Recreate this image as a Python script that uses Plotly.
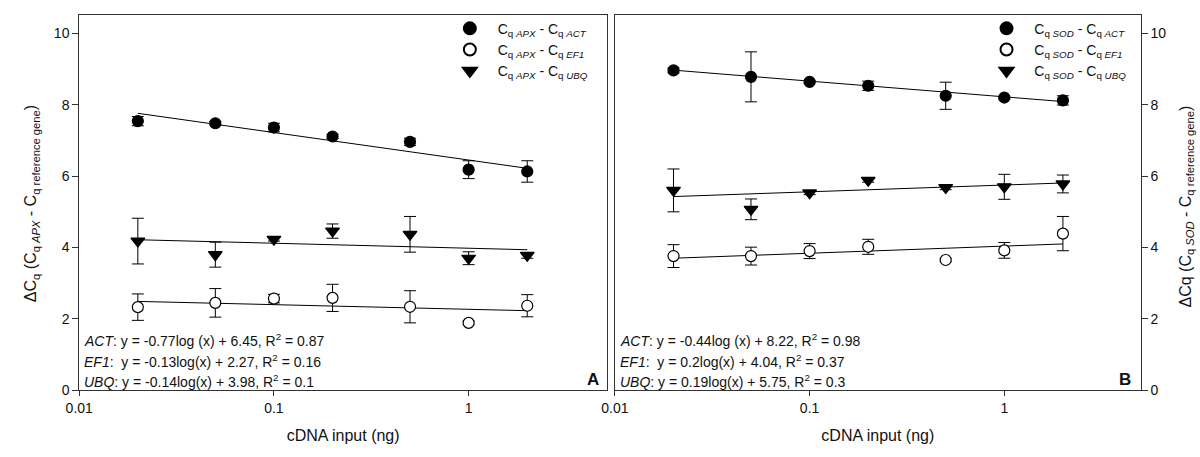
import numpy as np
import plotly.graph_objects as go

# ---------------- data ----------------
cdna = [0.02, 0.05, 0.1, 0.2, 0.5, 1, 2]

# Panel A (APX)
a_act = [7.54, 7.48, 7.36, 7.11, 6.96, 6.18, 6.13]
a_act_err = [0.13, 0.05, 0.12, 0.06, 0.10, 0.25, 0.30]
a_ef1 = [2.33, 2.45, 2.57, 2.59, 2.34, 1.89, 2.37]
a_ef1_err = [0.37, 0.40, 0.12, 0.38, 0.45, 0.05, 0.31]
a_ubq = [4.18, 3.80, 4.23, 4.46, 4.37, 3.70, 3.78]
a_ubq_err = [0.64, 0.35, 0.05, 0.20, 0.50, 0.18, 0.08]

# Panel B (SOD)
b_act = [8.96, 8.78, 8.64, 8.53, 8.25, 8.20, 8.12]
b_act_err = [0.07, 0.70, 0.04, 0.13, 0.38, 0.04, 0.13]
b_ef1 = [3.76, 3.76, 3.90, 4.02, 3.65, 3.92, 4.39]
b_ef1_err = [0.32, 0.25, 0.21, 0.21, 0.05, 0.22, 0.48]
b_ubq = [5.60, 5.07, 5.53, 5.88, 5.68, 5.70, 5.78]
b_ubq_err = [0.60, 0.29, 0.05, 0.05, 0.06, 0.35, 0.25]

# regression coefficients (slope, intercept) as printed on the chart
a_fit = {"ACT": (-0.77, 6.45), "EF1": (-0.13, 2.27), "UBQ": (-0.14, 3.98)}
b_fit = {"ACT": (-0.44, 8.22), "EF1": (0.20, 4.04), "UBQ": (0.19, 5.75)}

a_eq = ["<i>ACT</i>: y = -0.77log (x) + 6.45, R<sup>2</sup> = 0.87",
        "<i>EF1</i>:&nbsp; y = -0.13log(x) + 2.27, R<sup>2</sup> = 0.16",
        "<i>UBQ</i>: y = -0.14log(x) + 3.98, R<sup>2</sup> = 0.1"]
b_eq = ["<i>ACT</i>: y = -0.44log (x) + 8.22, R<sup>2</sup> = 0.98",
        "<i>EF1</i>:&nbsp; y = 0.2log(x) + 4.04, R<sup>2</sup> = 0.37",
        "<i>UBQ</i>: y = 0.19log(x) + 5.75, R<sup>2</sup> = 0.3"]

FONT = "Arial, Liberation Sans, sans-serif"
W, H = 1200, 457
DEC = 197.0  # px per decade

def px_x(p):
    return p / W

def px_y(p):
    return 1 - p / H

fig = go.Figure()

def add_panel(xa, ya, gene, vals, fits, legend):
    specs = [("ACT", "circle", "black", vals[0], vals[1]),
             ("EF1", "circle", "white", vals[2], vals[3]),
             ("UBQ", "triangle-down", "black", vals[4], vals[5])]
    for ref, sym, fill, y, e in specs:
        s, b = fits[ref]
        xl = [cdna[0], cdna[-1]]
        yl = [s * np.log10(v) + b for v in xl]
        fig.add_trace(go.Scatter(x=xl, y=yl, mode="lines", xaxis=xa, yaxis=ya,
                                 line=dict(color="black", width=1), showlegend=False,
                                 hoverinfo="skip"))
    for ref, sym, fill, y, e in specs:
        fig.add_trace(go.Scatter(
            x=cdna, y=y, mode="markers", xaxis=xa, yaxis=ya, legend=legend,
            name=f"&nbsp;&nbsp;C<sub>q <i>{gene}</i></sub> - C<sub>q <i>{ref}</i></sub>",
            marker=dict(symbol=sym, size=11 if sym != "triangle-down" else 12,
                        color=fill, line=dict(color="black", width=1.2)),
            error_y=dict(type="data", array=e, visible=True, color="black",
                         thickness=1, width=6)))

add_panel("x", "y", "APX", [a_act, a_act_err, a_ef1, a_ef1_err, a_ubq, a_ubq_err], a_fit, "legend")
add_panel("x2", "y2", "SOD", [b_act, b_act_err, b_ef1, b_ef1_err, b_ubq, b_ubq_err], b_fit, "legend2")

ydom = [px_y(397.3), px_y(15.7)]
axis_common = dict(showline=True, linecolor="#333", linewidth=1, mirror=True,
                   ticks="outside", tickcolor="#333", showgrid=False,
                   zeroline=False, tickfont=dict(family=FONT, size=14, color="#111"))

fig.update_layout(
    width=W, height=H, margin=dict(l=0, r=0, t=0, b=0),
    paper_bgcolor="white", plot_bgcolor="white",
    font=dict(family=FONT, color="#111"),
    xaxis=dict(domain=[px_x(66), px_x(600)], type="log", range=[-2, -2 + 534 / DEC],
               tickvals=[0.01, 0.1, 1], ticktext=["0.01", "0.1", "1"], anchor="y", ticklen=5,
               title=dict(text="cDNA input (ng)", font=dict(family=FONT, size=16), standoff=14),
               **axis_common),
    yaxis=dict(domain=ydom, range=[0, 10.5], tickvals=[0, 2, 4, 6, 8, 10], anchor="x", ticklen=6,
               **axis_common),
    xaxis2=dict(domain=[px_x(608), px_x(1140)], type="log", range=[-2, -2 + 532 / DEC],
                tickvals=[0.01, 0.1, 1], ticktext=["0.01", "0.1", "1"], anchor="y2", ticklen=5,
                title=dict(text="cDNA input (ng)", font=dict(family=FONT, size=16), standoff=14),
                **axis_common),
    yaxis2=dict(domain=ydom, range=[0, 10.5], tickvals=[0, 2, 4, 6, 8, 10], anchor="x2",
                side="right", ticklen=6, **axis_common),
    legend=dict(x=px_x(441), y=px_y(13), xanchor="left", yanchor="top",
                bgcolor="rgba(0,0,0,0)", font=dict(family=FONT, size=14),
                itemsizing="constant", tracegroupgap=0),
    legend2=dict(x=px_x(984), y=px_y(13), xanchor="left", yanchor="top",
                 bgcolor="rgba(0,0,0,0)", font=dict(family=FONT, size=14),
                 itemsizing="constant", tracegroupgap=0),
    showlegend=True,
)

ann = []
for i, t in enumerate(a_eq):
    ann.append(dict(text=t, x=px_x(69), y=px_y(346 + 21 * i), xref="paper", yref="paper",
                    xanchor="left", yanchor="middle", showarrow=False,
                    font=dict(family=FONT, size=14, color="#111")))
for i, t in enumerate(b_eq):
    ann.append(dict(text=t, x=px_x(611), y=px_y(346 + 21 * i), xref="paper", yref="paper",
                    xanchor="left", yanchor="middle", showarrow=False,
                    font=dict(family=FONT, size=14, color="#111")))
ann.append(dict(text="<b>A</b>", x=px_x(594), y=px_y(386), xref="paper", yref="paper",
                xanchor="right", yanchor="middle", showarrow=False,
                font=dict(family=FONT, size=17, color="#111")))
ann.append(dict(text="<b>B</b>", x=px_x(1132), y=px_y(386), xref="paper", yref="paper",
                xanchor="right", yanchor="middle", showarrow=False,
                font=dict(family=FONT, size=17, color="#111")))
ann.append(dict(text="ΔC<sub>q</sub> (C<sub>q <i>APX</i></sub> - C<sub>q reference gene</sub>)",
                x=px_x(18), y=px_y(207), xref="paper", yref="paper", textangle=-90,
                xanchor="center", yanchor="middle", showarrow=False,
                font=dict(family=FONT, size=16, color="#111")))
ann.append(dict(text="ΔCq (C<sub>q <i>SOD</i></sub> - C<sub>q reference gene</sub>)",
                x=px_x(1186), y=px_y(210), xref="paper", yref="paper", textangle=-90,
                xanchor="center", yanchor="middle", showarrow=False,
                font=dict(family=FONT, size=16, color="#111")))
fig.update_layout(annotations=ann)

fig.write_html("out.html", config={"displayModeBar": False},
               post_script="document.body.style.margin='0';document.body.style.overflow='hidden';")
